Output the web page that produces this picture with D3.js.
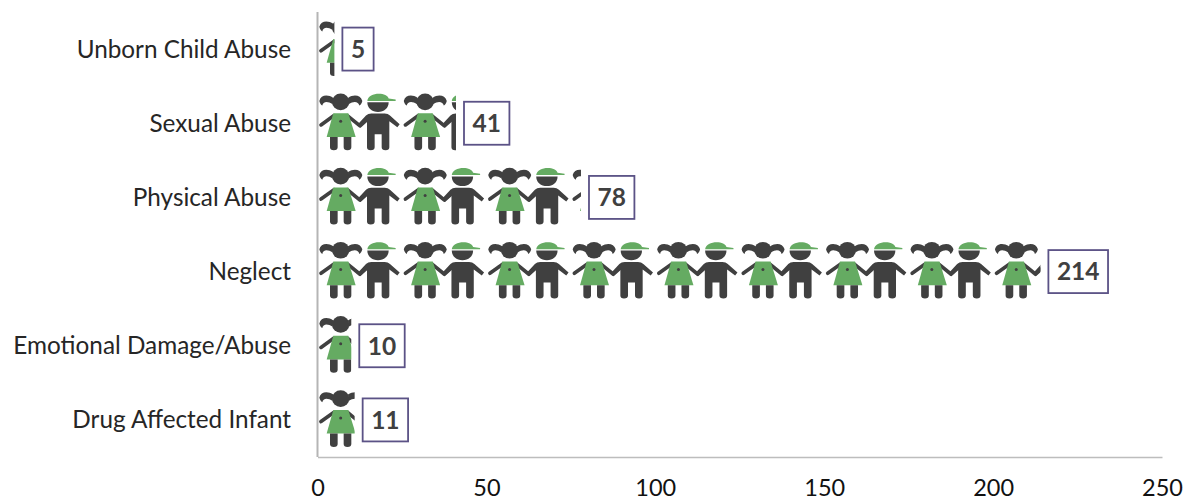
<!DOCTYPE html>
<html>
<head>
<meta charset="utf-8">
<script src="https://d3js.org/d3.v7.min.js"></script>
<style>
  html, body { margin: 0; padding: 0; background: #fff; }
  svg { display: block; }
  text { font-family: Lato, "Open Sans", sans-serif; }
</style>
</head>
<body>
<div id="chart"></div>
<script>
const categories = ['Unborn Child Abuse', 'Sexual Abuse', 'Physical Abuse', 'Neglect', 'Emotional Damage/Abuse', 'Drug Affected Infant'];
const values = [5, 41, 78, 214, 10, 11];
const xTicks = [0, 50, 100, 150, 200, 250];
const unitValue = 25; // one girl + boy pair stands for 25 cases

const width = 1185;
const height = 501;
const margin = { top: 12, right: 23, bottom: 44, left: 317.5 };

const dark = '#404040';
const green = '#65ab62';

const svg = d3.select('#chart').append('svg')
  .attr('width', width)
  .attr('height', height);

const x = d3.scaleLinear().domain([0, 250]).range([margin.left, width - margin.right]);
const y = d3.scaleBand().domain(categories).range([margin.top, height - margin.bottom]);

const defs = svg.append('defs');

defs.append('filter').attr('id', 'soft')
  .append('feGaussianBlur').attr('stdDeviation', 0.4);

// pictogram unit, drawn in a 3x space and scaled down
const unit = defs.append('g').attr('id', 'pair').attr('transform', 'translate(-7.5,-37) scale(0.3333)');

// girl
unit.append('path')
  .attr('d', 'M70,35 C52,23 32,27 28,44 C30,52 33,55 37,58 C39,46 52,43 68,54 Z M114,35 C132,23 152,27 157,44 C155,52 152,55 148,58 C145,46 132,43 116,54 Z')
  .attr('fill', dark);
unit.append('ellipse').attr('cx', 92).attr('cy', 47).attr('rx', 26).attr('ry', 25).attr('fill', dark);
unit.append('path')
  .attr('d', 'M72,88 L33,116 M112,88 L150,119 L180,92')
  .attr('fill', 'none').attr('stroke', dark).attr('stroke-width', 11).attr('stroke-linecap', 'round').attr('stroke-linejoin', 'round');
unit.append('path')
  .attr('d', 'M70,81 L115,81 L137,152 L50,152 Z')
  .attr('fill', green);
unit.append('circle').attr('cx', 92).attr('cy', 105).attr('r', 4.5).attr('fill', dark);
unit.append('path')
  .attr('d', 'M60,152 H83 V183 Q83,192 71.5,192 Q60,192 60,183 Z M101,152 H124 V183 Q124,192 112.5,192 Q101,192 101,183 Z')
  .attr('fill', dark);

// boy
unit.append('path')
  .attr('d', 'M172,44 C174,17 232,17 236,37 L257,40 L257,44 Z')
  .attr('fill', green);
unit.append('path')
  .attr('d', 'M172,48 H236 C236,66 222,77 204,77 C186,77 172,66 172,48 Z')
  .attr('fill', dark);
unit.append('path')
  .attr('d', 'M184,82 H224 Q234,82 240,88 L269,114 L262,123 L238,105 V183 Q238,192 227,192 Q215,192 215,183 V144 H194 V183 Q194,192 182,192 Q171,192 171,183 V105 L150,124 L143,115 L168,88 Q174,82 184,82 Z')
  .attr('fill', dark);

// axis lines
const axis = svg.append('g')
  .attr('transform', `translate(0,${height - margin.bottom})`)
  .call(d3.axisBottom(x).tickValues(xTicks).tickSize(0).tickPadding(22));
axis.select('.domain').attr('stroke', '#bdbdbd').attr('stroke-width', 1.6);
axis.selectAll('text').attr('font-size', 23.5).attr('fill', '#111').style('font-family', 'Lato');

svg.append('line')
  .attr('x1', x(0)).attr('x2', x(0))
  .attr('y1', margin.top).attr('y2', height - margin.bottom)
  .attr('stroke', '#b5b5b5').attr('stroke-width', 2);

// category labels
svg.append('g').selectAll('text')
  .data(categories)
  .enter().append('text')
  .attr('x', x(0) - 26.5)
  .attr('y', d => y(d) + y.bandwidth() / 2)
  .attr('dy', '.35em')
  .attr('text-anchor', 'end')
  .attr('font-size', 24.3)
  .attr('fill', '#262626')
  .text(d => d);

// pictogram bars
const rows = categories.map((c, i) => ({ category: c, value: values[i], index: i }));

defs.selectAll('clipPath')
  .data(rows)
  .enter().append('clipPath')
  .attr('id', d => 'bar-clip-' + d.index)
  .append('rect')
  .attr('x', x(0))
  .attr('y', d => y(d.category))
  .attr('width', d => x(d.value) - x(0))
  .attr('height', y.bandwidth());

const bars = svg.append('g').attr('filter', 'url(#soft)').selectAll('g')
  .data(rows)
  .enter().append('g')
  .attr('clip-path', d => `url(#bar-clip-${d.index})`);

bars.selectAll('use')
  .data(d => d3.range(Math.ceil(d.value / unitValue)).map(k => ({ k: k, category: d.category })))
  .enter().append('use')
  .attr('href', '#pair')
  .attr('transform', d => `translate(${x(d.k * unitValue)},${y(d.category) + y.bandwidth() / 2})`);

// value labels in boxes
const labels = svg.append('g').selectAll('g')
  .data(rows)
  .enter().append('g')
  .attr('transform', d => `translate(${x(d.value) + 8},${y(d.category) + y.bandwidth() / 2})`);

const boxes = labels.append('rect')
  .attr('y', -21.5)
  .attr('height', 43)
  .attr('fill', '#fff')
  .attr('stroke', '#5b5286')
  .attr('stroke-width', 1.8);

const labelText = labels.append('text')
  .attr('y', 0)
  .attr('dy', '.36em')
  .attr('text-anchor', 'middle')
  .attr('font-size', 24.5)
  .attr('font-weight', 700)
  .attr('fill', '#404040')
  .text(d => d.value);

labelText.attr('x', function () { return this.getComputedTextLength() / 2 + 8.5; });
boxes.attr('width', function (d, i) { return labelText.nodes()[i].getComputedTextLength() + 17; });
</script>
</body>
</html>
